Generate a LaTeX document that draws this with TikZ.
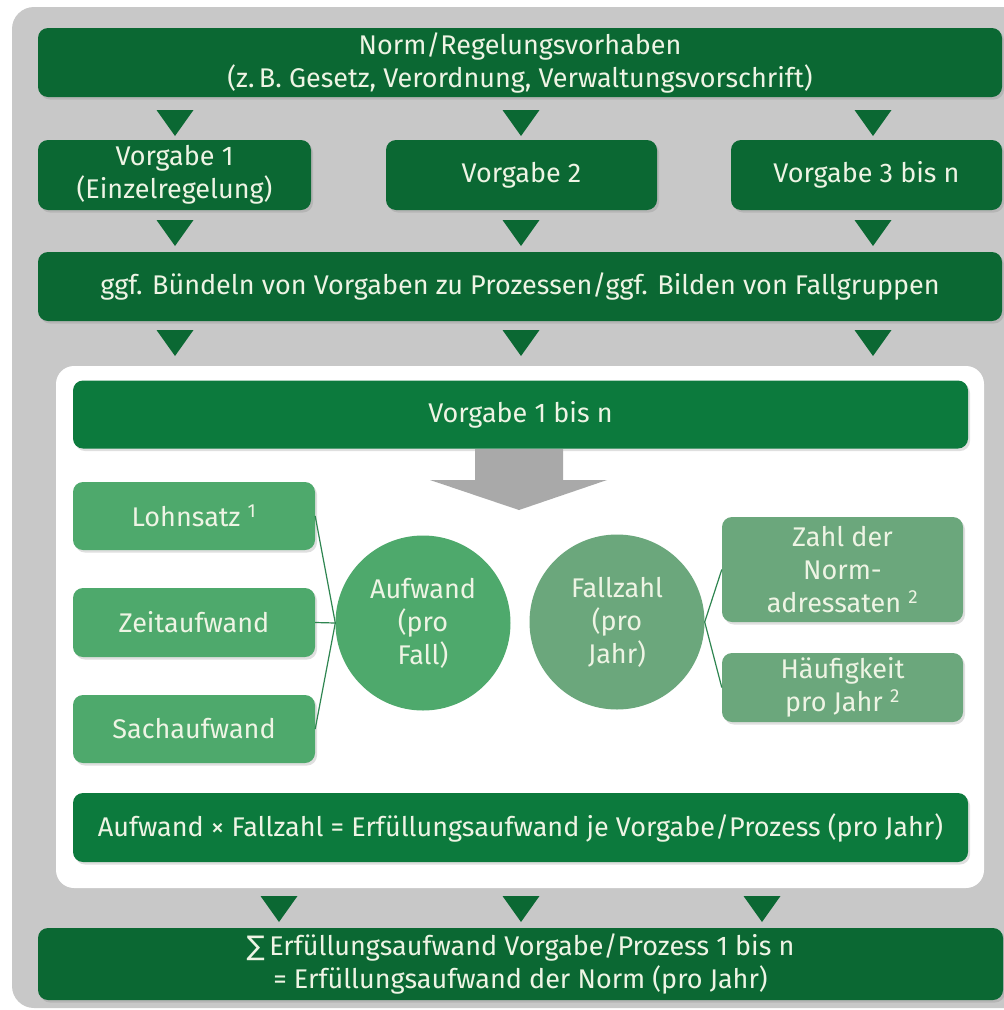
\documentclass[tikz,border=0pt]{standalone}
\usepackage{fontspec}
\setmainfont{Fira Sans}
\newfontfamily\symfont{DejaVu Sans}
\usetikzlibrary{shadows}
\definecolor{bggray}{HTML}{C8C8C8}
\definecolor{dkgreen}{HTML}{0B6833}
\definecolor{brgreen}{HTML}{0C7A3D}
\definecolor{mdgreen}{HTML}{4EA96C}
\definecolor{grgreen}{HTML}{6BA77C}
\definecolor{linegreen}{HTML}{2E8550}
\definecolor{txt}{HTML}{EEF4E4}
\definecolor{arrgray}{HTML}{A9A9A9}
\tikzset{
  box/.style={rounded corners=10pt, text=txt, align=center, inner sep=0pt,
    font=\fontsize{27}{33}\selectfont,
    drop shadow={opacity=0.25, shadow xshift=2pt, shadow yshift=-2.5pt}},
  dkbox/.style={box, fill=dkgreen},
  brbox/.style={box, fill=brgreen},
  mdbox/.style={box, fill=mdgreen},
  grbox/.style={box, fill=grgreen},
  circ/.style={circle, text=txt, align=center, inner sep=0pt,
    font=\fontsize{27}{33}\selectfont, minimum size=175pt},
  conn/.style={draw=linegreen, line width=1.2pt},
  tri/.style={fill=dkgreen}
}
\newcommand\mytri[2]{\fill[tri] (#1-18.5,#2) -- (#1+18.5,#2) -- (#1,#2+26) -- cycle;}
\begin{document}
\begin{tikzpicture}[x=1pt,y=-1pt]
\useasboundingbox (0,0) rectangle (1004,1010);
\fill[white] (0,0) rectangle (1004,1010);
\fill[bggray, rounded corners=22pt] (12,7) rectangle (1030,1008);
% top
\node[dkbox, minimum width=964pt, minimum height=69pt] (norm) at (520,62.5)
  {Norm/Regelungsvorhaben\\(z.\,B. Gesetz, Verordnung, Verwaltungsvorschrift)};
\mytri{175}{110}\mytri{521}{110}\mytri{873}{110}
\node[dkbox, minimum width=273pt, minimum height=70pt] (v1) at (174.5,175) {Vorgabe 1\\(Einzelregelung)};
\node[dkbox, minimum width=271pt, minimum height=70pt] (v2) at (521.5,175) {Vorgabe 2};
\node[dkbox, minimum width=271pt, minimum height=70pt] (v3) at (866.5,175) {Vorgabe 3 bis n};
\mytri{175}{220}\mytri{521}{220}\mytri{873}{220}
\node[dkbox, minimum width=964pt, minimum height=69pt] (bund) at (520,286.5)
  {ggf. Bündeln von Vorgaben zu Prozessen/ggf. Bilden von Fallgruppen};
\mytri{175}{330}\mytri{521}{330}\mytri{873}{330}
% inner white panel
\node[fill=white, rounded corners=18pt, minimum width=928pt, minimum height=522pt, inner sep=0pt] (panel) at (520,627) {};
\node[brbox, minimum width=895pt, minimum height=68pt] (vn) at (520.5,414.5) {Vorgabe 1 bis n};
\fill[arrgray] (475,449) -- (563,449) -- (563,480) -- (607,480) -- (519,510) -- (430,480) -- (475,480) -- cycle;
\node[mdbox, minimum width=242pt, minimum height=68pt] (lohn) at (194,516) {Lohnsatz \textsuperscript{1}};
\node[mdbox, minimum width=242pt, minimum height=69pt] (zeit) at (194,622.5) {Zeitaufwand};
\node[mdbox, minimum width=242pt, minimum height=68pt] (sach) at (194,729) {Sachaufwand};
\node[circ, fill=mdgreen] (auf) at (423,623) {Aufwand\\(pro\\Fall)};
\node[circ, fill=grgreen] (fall) at (617,622) {Fallzahl\\(pro\\Jahr)};
\node[grbox, minimum width=241pt, minimum height=105pt] (zahl) at (842.5,569.5) {Zahl der\\Norm-\\adressaten \textsuperscript{2}};
\node[grbox, minimum width=241pt, minimum height=69pt] (haeuf) at (842.5,687.5) {Häufigkeit\\pro Jahr \textsuperscript{2}};
\draw[conn] (lohn.east) -- (auf.west);
\draw[conn] (zeit.east) -- (auf.west);
\draw[conn] (sach.east) -- (auf.west);
\draw[conn] (fall.east) -- (zahl.west);
\draw[conn] (fall.east) -- (haeuf.west);
\node[brbox, minimum width=895pt, minimum height=69pt] (formel) at (520.5,827.5)
  {Aufwand × Fallzahl = Erfüllungsaufwand je Vorgabe/Prozess (pro Jahr)};
\mytri{279}{896}\mytri{521}{896}\mytri{762}{896}
\node[dkbox, minimum width=965pt, minimum height=72pt] (summe) at (520.5,964)
  {{\symfont ∑}\,Erfüllungsaufwand Vorgabe/Prozess 1 bis n\\= Erfüllungsaufwand der Norm (pro Jahr)};
\end{tikzpicture}
\end{document}
